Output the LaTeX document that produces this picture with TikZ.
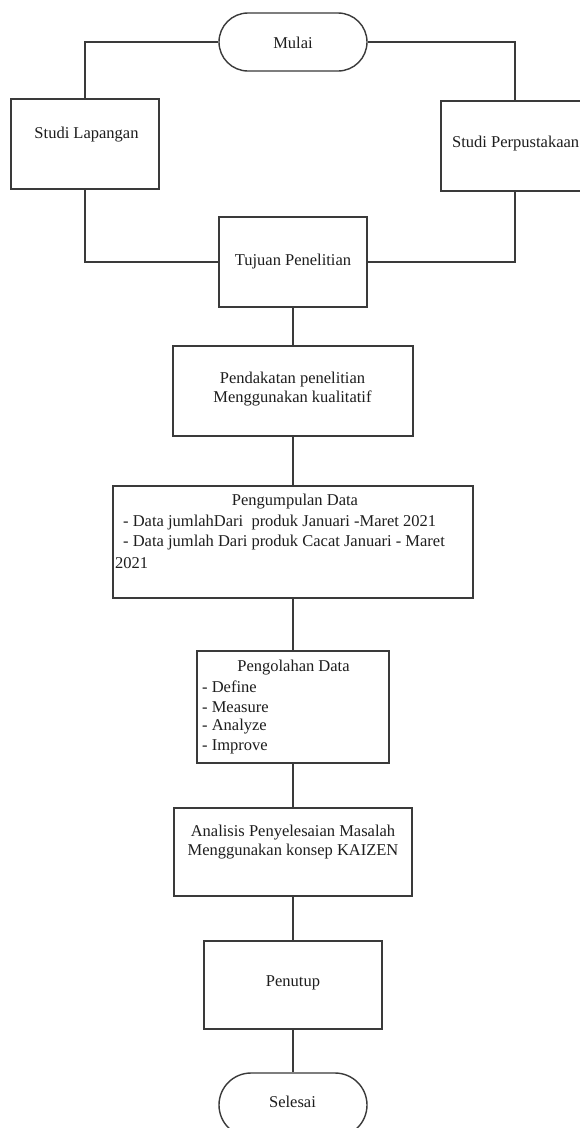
\documentclass[tikz,border=0pt]{standalone}
\usepackage{fontspec}
\setmainfont{Liberation Serif}
\usetikzlibrary{shapes.misc}
\definecolor{lc}{HTML}{3A3A3A}
\definecolor{tc}{HTML}{1E1E1E}
\tikzset{
  boxshape/.style={draw=lc, line width=1.4pt, inner sep=0pt, fill=none},
  termshape/.style={rounded rectangle, draw=lc, line width=1.4pt, inner sep=0pt, minimum width=148pt, minimum height=58pt},
  conn/.style={draw=lc, line width=1.4pt},
  txt/.style={inner sep=0pt, text=tc, font=\fontsize{16.5}{19}\selectfont},
}
\begin{document}
\begin{tikzpicture}[x=1pt,y=-1pt]
\useasboundingbox (0,0) rectangle (580,1128);
\clip (0,0) rectangle (580,1128);
\fill[white] (0,0) rectangle (580,1128);

% boxes
\node[termshape] (mulai) at (293,42) {};
\node[boxshape, minimum width=148pt, minimum height=90pt] (lap) at (85,144) {};
\node[boxshape, minimum width=148pt, minimum height=90pt] (perp) at (515,146) {};
\node[boxshape, minimum width=148pt, minimum height=90pt] (tuj) at (293,262) {};
\node[boxshape, minimum width=240pt, minimum height=90pt] (pend) at (293,391) {};
\node[boxshape, minimum width=360pt, minimum height=112pt] (peng) at (293,542) {};
\node[boxshape, minimum width=192pt, minimum height=112pt] (olah) at (293,707) {};
\node[boxshape, minimum width=238pt, minimum height=88pt] (anal) at (293,852) {};
\node[boxshape, minimum width=178pt, minimum height=88pt] (tutup) at (293,985) {};
\node[termshape, minimum height=64pt] (selesai) at (293,1105) {};

% texts
\node[txt] (tmulai) at (293,43) {Mulai};
\node[txt] (tlap) at (86.5,135) {Studi Lapangan};
\node[txt, anchor=west] (tperp) at (452,144) {Studi Perpustakaan};
\node[txt] (ttuj) at (293,262) {Tujuan Penelitian};
\node[txt, align=center] (tpend) at (292.5,389.5) {Pendakatan penelitian\\Menggunakan kualitatif};
\node[txt] (tpeng1) at (295,502) {Pengumpulan Data};
\node[txt, anchor=west] (tpeng2) at (123,523) {- Data jumlahDari\ \ produk Januari -Maret 2021};
\node[txt, anchor=west] (tpeng3) at (123,543) {- Data jumlah Dari produk Cacat Januari - Maret};
\node[txt, anchor=west] (tpeng4) at (115,563) {2021};
\node[txt] (tolah1) at (293.5,668) {Pengolahan Data};
\node[txt, anchor=west] (tolah2) at (202,687) {- Define};
\node[txt, anchor=west] (tolah3) at (202,707) {- Measure};
\node[txt, anchor=west] (tolah4) at (202,727) {- Analyze};
\node[txt, anchor=west] (tolah5) at (202,747) {- Improve};
\node[txt, align=center] (tanal) at (293,842) {Analisis Penyelesaian Masalah\\Menggunakan konsep KAIZEN};
\node[txt] (ttutup) at (293,983) {Penutup};
\node[txt] (tsel) at (292.5,1102) {Selesai};

% connectors
\draw[conn] (mulai.west) -| (lap.north);
\draw[conn] (mulai.east) -| (perp.north);
\draw[conn] (lap.south) |- (tuj.west);
\draw[conn] (perp.south) |- (tuj.east);
\draw[conn] (tuj.south) -- (pend.north);
\draw[conn] (pend.south) -- (peng.north);
\draw[conn] (peng.south) -- (olah.north);
\draw[conn] (olah.south) -- (anal.north);
\draw[conn] (anal.south) -- (tutup.north);
\draw[conn] (tutup.south) -- (selesai.north);
\end{tikzpicture}
\end{document}
